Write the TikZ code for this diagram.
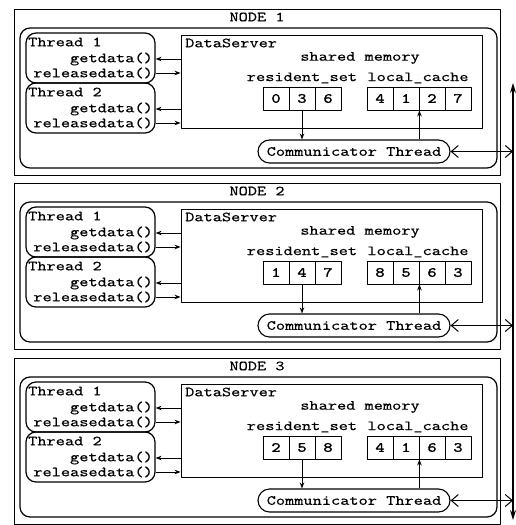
\documentclass[tikz,border=0pt]{standalone}
\usepackage{fontspec}
\newfontfamily\codefont{lmmono10-regular.otf}[FakeStretch=1.25, FakeBold=0.3]
\newfontfamily\digitfont{lmmono10-regular.otf}[FakeStretch=1.25, FakeBold=1.8]
\usetikzlibrary{arrows.meta}
\tikzset{
  lbl/.style={inner sep=0pt, font=\codefont\fontsize{14}{14}\selectfont},
  nodebox/.style={draw, line width=0.9pt},
  hostbox/.style={draw, line width=1.2pt, rounded corners=10pt},
  thrbox/.style={draw, line width=1.2pt, rounded corners=10pt, minimum width=129pt, minimum height=50pt},
  dsbox/.style={draw, line width=0.9pt, minimum width=301pt, minimum height=93pt},
  cell/.style={draw, line width=0.9pt, minimum width=26pt, minimum height=23pt, inner sep=0pt,
    font=\digitfont\fontsize{14}{14}\selectfont},
  commbox/.style={draw, line width=1.1pt, rounded corners=11.5pt, minimum width=192pt, minimum height=23pt,
    inner sep=0pt, font=\codefont\fontsize{14}{14}\selectfont},
  commarrow/.style={line width=1pt, {Straight Barb[length=7pt,width=12pt]}-{Straight Barb[length=7pt,width=12pt]}},
  busarrow/.style={line width=1.2pt, {Stealth[length=10pt,width=6pt]}-{Stealth[length=10pt,width=6pt]}}
}
\begin{document}
\begin{tikzpicture}[x=1pt, y=-1pt, line join=round, >={Stealth[length=6pt,width=4.5pt]}]
  \useasboundingbox (0,0) rectangle (515,525);
  \coordinate (bustop) at (513,83);
  \coordinate (busbot) at (513,520);
  \foreach \n/\dy/\rs/\lc in {1/0/{0,3,6}/{4,1,2,7}, 2/174/{1,4,7}/{8,5,6,3}, 3/349/{2,5,8}/{4,1,6,3}}{
    \begin{scope}[shift={(0,\dy)}]
      \draw[nodebox] (14,9) rectangle (500,175);
      \node[lbl] (title\n) at (257,17) {NODE \n};
      \draw[hostbox] (20,28) rectangle (497,168);
      % application threads
      \node[thrbox] (ta\n) at (90.5,58) {};
      \node[thrbox] (tb\n) at (90.5,108) {};
      \node[lbl, anchor=west] (tan\n) at (28,42) {Thread 1};
      \node[lbl, anchor=east] (tag\n) at (153,59) {getdata()};
      \node[lbl, anchor=east] (tar\n) at (153,73) {releasedata()};
      \node[lbl, anchor=west] (tbn\n) at (28,92) {Thread 2};
      \node[lbl, anchor=east] (tbg\n) at (153,109) {getdata()};
      \node[lbl, anchor=east] (tbr\n) at (153,123) {releasedata()};
      % data server
      \node[dsbox] (ds\n) at (331.5,81.5) {};
      \node[lbl, anchor=west] (dsn\n) at (185,43) {DataServer};
      \node[lbl] (shm\n) at (360,58) {shared memory};
      \node[lbl] (rsn\n) at (302,78) {resident\_set};
      \node[lbl] (lcn\n) at (418,78) {local\_cache};
      \foreach \v [count=\k] in \rs
        \node[cell] (rs\n\k) at ({250+26*\k},98.5) {\v};
      \foreach \v [count=\k] in \lc
        \node[cell] (lc\n\k) at ({354+26*\k},98.5) {\v};
      \node[commbox] (ct\n) at (354,151.5) {Communicator Thread};
      % connectors
      \draw[->, line width=0.9pt] (ds\n.west |- tag\n) -- (ta\n.east |- tag\n);
      \draw[->, line width=0.9pt] (ta\n.east |- tar\n) -- (ds\n.west |- tar\n);
      \draw[->, line width=0.9pt] (ds\n.west |- tbg\n) -- (tb\n.east |- tbg\n);
      \draw[->, line width=0.9pt] (tb\n.east |- tbr\n) -- (ds\n.west |- tbr\n);
      \draw[->, line width=0.9pt] (rs\n2.south) -- (ct\n.north -| rs\n2.south);
      \draw[->, line width=0.9pt] (ct\n.north -| lc\n2.south east) -- (lc\n2.south east);
      \draw[commarrow] (ct\n.east) -- (ct\n.east -| bustop);
    \end{scope}
  }
  \draw[busarrow] (bustop) -- (busbot);
\end{tikzpicture}
\end{document}
